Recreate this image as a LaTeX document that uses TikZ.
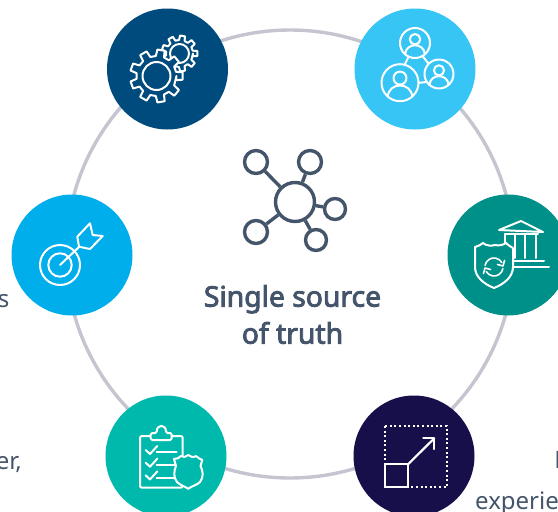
\documentclass[tikz,border=0pt]{standalone}
\usepackage{fontspec}
\setmainfont{Noto Sans}[AutoFakeBold=3]

\definecolor{inkslate}{HTML}{44546A}
\definecolor{ringgray}{HTML}{C4C5D0}
\definecolor{navyblue}{HTML}{004B7D}
\definecolor{skyblue}{HTML}{36C5F5}
\definecolor{tealdark}{HTML}{00908A}
\definecolor{midnight}{HTML}{170F49}
\definecolor{tealmid}{HTML}{00B9AD}
\definecolor{azure}{HTML}{00AEEB}

\begin{document}
\begin{tikzpicture}[
    x=1pt, y=-1pt,
    badge/.style={circle, minimum size=121pt, inner sep=0pt},
    icon/.style={draw=white, line width=2pt, line join=round, line cap=round},
    hub/.style={circle, draw=inkslate, line width=3.4pt, fill=white, inner sep=0pt},
    spoke/.style={draw=inkslate, line width=3.4pt},
    title/.style={text=inkslate, font=\fontsize{28.3}{37}\selectfont\bfseries, align=center},
    side/.style={text=inkslate, font=\fontsize{24}{28}\selectfont, inner sep=0pt}
]
    \useasboundingbox (0,0) rectangle (558,512);
    \clip (0,0) rectangle (558,512);

    % ring
    \node[draw=ringgray, line width=3.4pt, circle, minimum size=448pt, inner sep=0pt] (ring) at (290,254) {};

    % clipped side texts
    \node[side, anchor=base east] (t1) at (9.5,307) {s};
    \node[side, anchor=base east] (t2) at (22,469) {er,};
    \node[side, anchor=base west] (t3) at (475,509) {experie};
    \node[side, anchor=base west] (t4) at (554.2,468) {E};

    % badges
    \node[badge, fill=navyblue] (gears) at (167.5,69) {};
    \node[badge, fill=skyblue] (people) at (415,69) {};
    \node[badge, fill=tealdark] (bank) at (508,255) {};
    \node[badge, fill=midnight] (scale) at (414,456) {};
    \node[badge, fill=tealmid] (audit) at (166,456) {};
    \node[badge, fill=azure] (target) at (72,255) {};

    % centre icon
    \node[hub, minimum size=39pt] (core) at (295,202) {};
    \node[hub, minimum size=23pt] (h1) at (256,162) {};
    \node[hub, minimum size=23pt] (h2) at (310,162) {};
    \node[hub, minimum size=21pt] (h3) at (335,209) {};
    \node[hub, minimum size=23pt] (h4) at (256,232) {};
    \node[hub, minimum size=21pt] (h5) at (316,240) {};
    \draw[spoke] (core) -- (h1);
    \draw[spoke] (core) -- (h2);
    \draw[spoke] (core) -- (h3);
    \draw[spoke] (core) -- (h4);
    \draw[spoke] (core) -- (h5);
    \node[title] (label) at (292.5,314.5) {Single source\\of truth};

    % gears
    \begin{scope}[shift={(gears.center)}]
        \foreach \cx/\cy/\ro/\ri/\hole/\teeth in {12/-15.5/18/13.5/9.5/9, -11/7/26.5/20/14/9} {
            \pgfmathsetmacro{\gearstep}{360/\teeth}
            \begin{scope}[shift={(\cx,\cy)}]
            \draw[icon, fill=navyblue] (0:\ri)
              \foreach \k in {1,...,\teeth} {
                -- ({(\k-0.3)*\gearstep}:\ri) -- ({(\k-0.2)*\gearstep}:\ro)
                -- ({(\k+0.2)*\gearstep}:\ro) -- ({(\k+0.3)*\gearstep}:\ri)
              } -- cycle;
            \draw[icon] (0,0) circle (\hole);
            \end{scope}
        }
    \end{scope}

    % people
    \begin{scope}[shift={(people.center)}]
        \draw[icon] (6,-15) -- (20,3) (-5,-15) -- (-11,-3) (2,14) -- (12,13);
        \foreach \cx/\cy/\rr in {0/-26/15, -15/13.7/18.5, 24/5/14.5} {
            \draw[icon, fill=skyblue] (\cx,\cy) circle (\rr);
            \draw[icon] (\cx,{\cy-0.25*\rr}) circle ({0.35*\rr});
            \draw[icon] ({\cx-0.66*\rr},{\cy+0.75*\rr}) .. controls ({\cx-0.6*\rr},{\cy-0.05*\rr}) and ({\cx+0.6*\rr},{\cy-0.05*\rr}) .. ({\cx+0.66*\rr},{\cy+0.75*\rr});
        }
    \end{scope}

    % bank and shield
    \begin{scope}[shift={(bank.center)}]
        \draw[icon] (-9,-25) -- (13,-34) -- (35,-23) -- cycle;
        \draw[icon] (-3,-21) -- (30,-21);
        \draw[icon] (-3,-21) -- (-3,-10) (7,-21) -- (7,3) (17,-21) -- (17,3) (28,-21) -- (28,3);
        \draw[icon] (5,6) -- (36,6) (5,12) -- (41,12);
        \draw[icon, fill=tealdark] (-33,-8) .. controls (-30,-9) and (-27,-10) .. (-25,-12)
            .. controls (-22,-9) and (-16,-9) .. (-13,-10) .. controls (-9,-9) and (-5,-10) .. (-2,-12)
            .. controls (0,-10) and (3,-8) .. (5,-7) -- (5,12)
            .. controls (5,22) and (-4,29) .. (-14,33) .. controls (-24,29) and (-33,22) .. (-33,12) -- cycle;
        \draw[icon, line width=1.6pt] (-22.9,10.4) arc (190:330:9) (-5.1,13.6) arc (10:150:9);
        \draw[icon, line width=1.6pt] (-10.5,9.5) -- (-5,11) -- (-3.5,5.5) (-17.5,14.5) -- (-23,13) -- (-24.5,18.5);
    \end{scope}

    % scale arrow
    \begin{scope}[shift={(scale.center)}]
        \draw[draw=white, line width=2pt, dash pattern=on 2pt off 2.6pt] (-29,-30) rectangle (33,31);
        \draw[draw=white, line width=2.2pt, fill=midnight] (-29,8) rectangle (-5.7,31);
        \draw[icon, line width=2.2pt] (-5.7,8) -- (20.3,-17.7);
        \draw[icon, line width=2.2pt] (9.3,-17.7) -- (20.3,-17.7) -- (20.3,-7);
    \end{scope}

    % checklist and shield
    \begin{scope}[shift={(audit.center)}]
        \draw[icon, rounded corners=2pt] (-26,-20) rectangle (16.7,31.7);
        \draw[icon, fill=tealmid, rounded corners=1.5pt] (-15.3,-16) -- (-15.3,-23) -- (-9.3,-23) .. controls (-9.3,-32) and (0,-32) .. (0,-23) -- (5.7,-23) -- (5.7,-16) -- cycle;
        \foreach \yy in {0,12.7,25.4} {
            \draw[icon] (-20.3,{\yy-6}) -- (-16,{\yy-2}) -- (-8.7,{\yy-10});
            \draw[icon] (-9.3,{\yy-3.7+0.3*\yy/12.7}) -- (10.7,{\yy-3.7+0.3*\yy/12.7});
        }
        \draw[icon, fill=tealmid] (8,3) .. controls (11,3) and (13,2) .. (15,0) .. controls (17,2) and (20,1) .. (22.3,-1) .. controls (25,1) and (27,2) .. (30,0) .. controls (32,2) and (34,3) .. (36.3,4)
            -- (34.5,10) .. controls (37,15) and (38,21) .. (34,26) .. controls (31,29) and (26,30) .. (22.3,32.7) .. controls (18,30) and (14,29) .. (11,26) .. controls (7,21) and (8,15) .. (10,10) -- cycle;
    \end{scope}

    % target
    \begin{scope}[shift={(target.center)}]
        \draw[icon] (-12,10) circle (20);
        \draw[icon] (-12,10) circle (11.7);
        \draw[icon] (-12,10) -- (7,-8);
        \draw[icon] (5.3,-18.3) -- (18,-31.7) -- (20.7,-20) -- (30.7,-19) -- (18,-6) -- (7,-8.3) -- cycle;
    \end{scope}
\end{tikzpicture}
\end{document}
